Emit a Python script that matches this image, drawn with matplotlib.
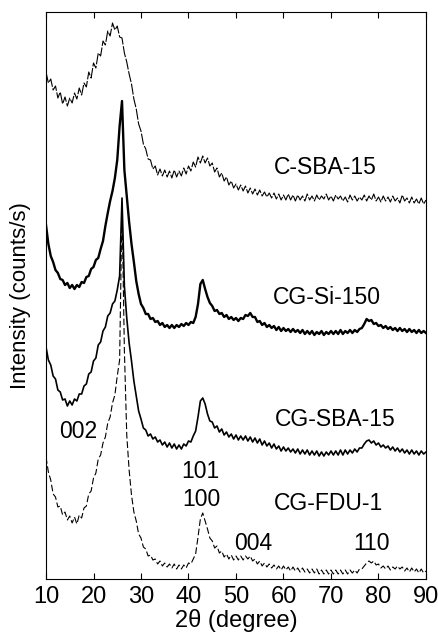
import matplotlib
matplotlib.use("Agg")
import matplotlib.pyplot as plt

# XRD patterns, stacked with offsets (arbitrary intensity units)
two_theta = [
    10.0, 10.5, 11.0, 11.5, 12.0, 12.5, 13.0, 13.5, 14.0, 14.5,
    15.0, 15.5, 16.0, 16.5, 17.0, 17.5, 18.0, 18.5, 19.0, 19.5,
    20.0, 20.5, 21.0, 21.5, 22.0, 22.5, 23.0, 23.5, 24.0, 24.5,
    25.0, 25.5, 26.0, 26.5, 27.0, 27.5, 28.0, 28.5, 29.0, 29.5,
    30.0, 30.5, 31.0, 31.5, 32.0, 32.5, 33.0, 33.5, 34.0, 34.5,
    35.0, 35.5, 36.0, 36.5, 37.0, 37.5, 38.0, 38.5, 39.0, 39.5,
    40.0, 40.5, 41.0, 41.5, 42.0, 42.5, 43.0, 43.5, 44.0, 44.5,
    45.0, 45.5, 46.0, 46.5, 47.0, 47.5, 48.0, 48.5, 49.0, 49.5,
    50.0, 50.5, 51.0, 51.5, 52.0, 52.5, 53.0, 53.5, 54.0, 54.5,
    55.0, 55.5, 56.0, 56.5, 57.0, 57.5, 58.0, 58.5, 59.0, 59.5,
    60.0, 60.5, 61.0, 61.5, 62.0, 62.5, 63.0, 63.5, 64.0, 64.5,
    65.0, 65.5, 66.0, 66.5, 67.0, 67.5, 68.0, 68.5, 69.0, 69.5,
    70.0, 70.5, 71.0, 71.5, 72.0, 72.5, 73.0, 73.5, 74.0, 74.5,
    75.0, 75.5, 76.0, 76.5, 77.0, 77.5, 78.0, 78.5, 79.0, 79.5,
    80.0, 80.5, 81.0, 81.5, 82.0, 82.5, 83.0, 83.5, 84.0, 84.5,
    85.0, 85.5, 86.0, 86.5, 87.0, 87.5, 88.0, 88.5, 89.0, 89.5,
    90.0,
]

c_sba15 = [
    507, 496, 500, 489, 493, 481, 487, 475, 482, 473,
    481, 476, 486, 480, 491, 484, 496, 492, 507, 501,
    516, 511, 526, 523, 538, 534, 548, 543, 556, 549,
    553, 542, 541, 526, 517, 505, 495, 480, 470, 455,
    448, 435, 430, 420, 419, 410, 413, 404, 410, 403,
    409, 402, 408, 401, 409, 402, 408, 403, 411, 405,
    413, 408, 417, 412, 422, 416, 423, 416, 421, 413,
    416, 407, 411, 402, 406, 398, 402, 394, 398, 391,
    395, 389, 394, 388, 393, 386, 391, 385, 390, 384,
    389, 383, 387, 382, 386, 381, 386, 380, 385, 379,
    384, 379, 385, 379, 384, 378, 384, 379, 383, 378,
    385, 379, 383, 378, 384, 379, 383, 380, 385, 379,
    383, 378, 384, 380, 383, 378, 382, 377, 384, 379,
    383, 378, 382, 379, 384, 378, 383, 379, 385, 378,
    382, 377, 383, 378, 382, 377, 383, 378, 381, 376,
    384, 378, 381, 376, 382, 376, 380, 375, 381, 375,
    379,
]

cg_si150 = [
    354, 335, 323, 317, 309, 306, 300, 299, 294, 296,
    291, 294, 290, 294, 292, 297, 296, 302, 303, 310,
    312, 319, 321, 330, 338, 353, 366, 378, 388, 401,
    419, 453, 478, 409, 383, 357, 335, 317, 298, 285,
    275, 271, 265, 265, 260, 261, 257, 258, 254, 256,
    252, 254, 251, 254, 251, 254, 252, 255, 253, 256,
    254, 257, 256, 262, 275, 295, 299, 290, 282, 276,
    273, 268, 269, 265, 266, 262, 264, 260, 262, 259,
    261, 258, 261, 260, 264, 263, 266, 262, 262, 257,
    258, 254, 256, 252, 254, 251, 253, 249, 252, 248,
    251, 248, 250, 247, 250, 247, 249, 246, 249, 245,
    248, 245, 248, 244, 247, 245, 248, 244, 247, 245,
    248, 245, 248, 245, 249, 245, 248, 246, 249, 246,
    249, 247, 250, 251, 255, 260, 258, 259, 255, 256,
    253, 254, 251, 253, 250, 252, 249, 251, 248, 251,
    248, 250, 247, 250, 247, 249, 246, 249, 246, 248,
    246,
]

cg_sba15 = [
    232, 219, 214, 203, 200, 189, 187, 179, 180, 173,
    178, 174, 180, 178, 185, 185, 193, 195, 205, 207,
    218, 221, 234, 237, 248, 252, 263, 266, 275, 278,
    289, 303, 381, 293, 261, 236, 218, 198, 183, 168,
    160, 151, 149, 143, 145, 140, 142, 137, 139, 134,
    137, 132, 136, 131, 135, 130, 134, 130, 135, 133,
    138, 137, 143, 148, 162, 178, 181, 175, 165, 158,
    157, 151, 153, 147, 150, 144, 147, 142, 145, 140,
    144, 139, 143, 139, 143, 138, 142, 137, 141, 136,
    140, 134, 138, 133, 136, 131, 135, 130, 133, 128,
    132, 128, 131, 127, 130, 126, 130, 125, 129, 125,
    129, 124, 128, 124, 128, 123, 127, 123, 127, 124,
    128, 124, 128, 124, 129, 124, 129, 125, 129, 126,
    130, 127, 131, 131, 135, 138, 139, 136, 138, 134,
    136, 132, 134, 131, 133, 129, 132, 128, 131, 127,
    130, 126, 129, 125, 129, 125, 128, 124, 128, 125,
    127,
]

cg_fdu1 = [
    122, 107, 99, 85, 82, 72, 73, 64, 67, 59,
    63, 56, 62, 55, 64, 61, 71, 73, 85, 88,
    101, 106, 120, 124, 136, 142, 156, 162, 176, 184,
    203, 219, 374, 229, 144, 109, 84, 67, 58, 45,
    41, 32, 30, 23, 24, 19, 20, 15, 18, 13,
    16, 12, 15, 11, 15, 10, 14, 10, 14, 11,
    16, 15, 20, 25, 42, 60, 66, 58, 50, 41,
    38, 31, 33, 26, 28, 22, 25, 20, 24, 19,
    23, 19, 23, 19, 23, 20, 23, 18, 20, 15,
    18, 13, 16, 12, 15, 11, 14, 10, 13, 9,
    13, 9, 12, 8, 12, 8, 11, 7, 11, 7,
    10, 6, 10, 6, 10, 5, 9, 5, 9, 5,
    9, 5, 9, 5, 9, 5, 9, 5, 9, 6,
    9, 6, 10, 10, 13, 16, 18, 16, 18, 14,
    15, 11, 13, 10, 13, 9, 12, 10, 13, 10,
    12, 8, 11, 7, 11, 7, 10, 6, 10, 6,
    8,
]

sample_names = ["C-SBA-15", "CG-Si-150", "CG-SBA-15", "CG-FDU-1"]
name_pos = [(68.7, 411), (69.2, 281), (70.8, 159), (69.4, 76)]

peak_labels = ["002", "101", "100", "004", "110"]
peak_pos = [(16.7, 147), (42.4, 107), (42.8, 79), (53.6, 36), (78.6, 36)]

x_ticks = [10, 20, 30, 40, 50, 60, 70, 80, 90]

plt.rcParams["font.family"] = ["Liberation Sans", "DejaVu Sans"]

fig = plt.figure(figsize=(4.38, 6.38), dpi=100)
ax = fig.add_axes([46 / 438, 1 - 579 / 638, 380 / 438, 567 / 638])

ax.plot(two_theta, c_sba15, color="black", lw=0.8, ls=(0, (10, 1.5)))
ax.plot(two_theta, cg_si150, color="black", lw=1.7)
ax.plot(two_theta, cg_sba15, color="black", lw=1.2)
ax.plot(two_theta, cg_fdu1, color="black", lw=0.8, ls=(0, (6, 2.5)))

for name, (x, y) in zip(sample_names, name_pos):
    ax.text(x, y, name, fontsize=16.5, ha="center", va="center")
for lab, (x, y) in zip(peak_labels, peak_pos):
    ax.text(x, y, lab, fontsize=16.5, ha="center", va="center")

ax.set_xlim(10, 90)
ax.set_ylim(0, 567)
ax.set_xticks(x_ticks)
ax.set_yticks([])
ax.tick_params(axis="x", direction="in", length=4.5, width=0.8,
               top=True, labelsize=17, pad=5)
for sp in ax.spines.values():
    sp.set_linewidth(0.8)

ax.set_xlabel("2θ (degree)", fontsize=17, labelpad=1)
ax.set_ylabel("Intensity (counts/s)", fontsize=16, labelpad=11)

fig.savefig("out.png", dpi=100)
